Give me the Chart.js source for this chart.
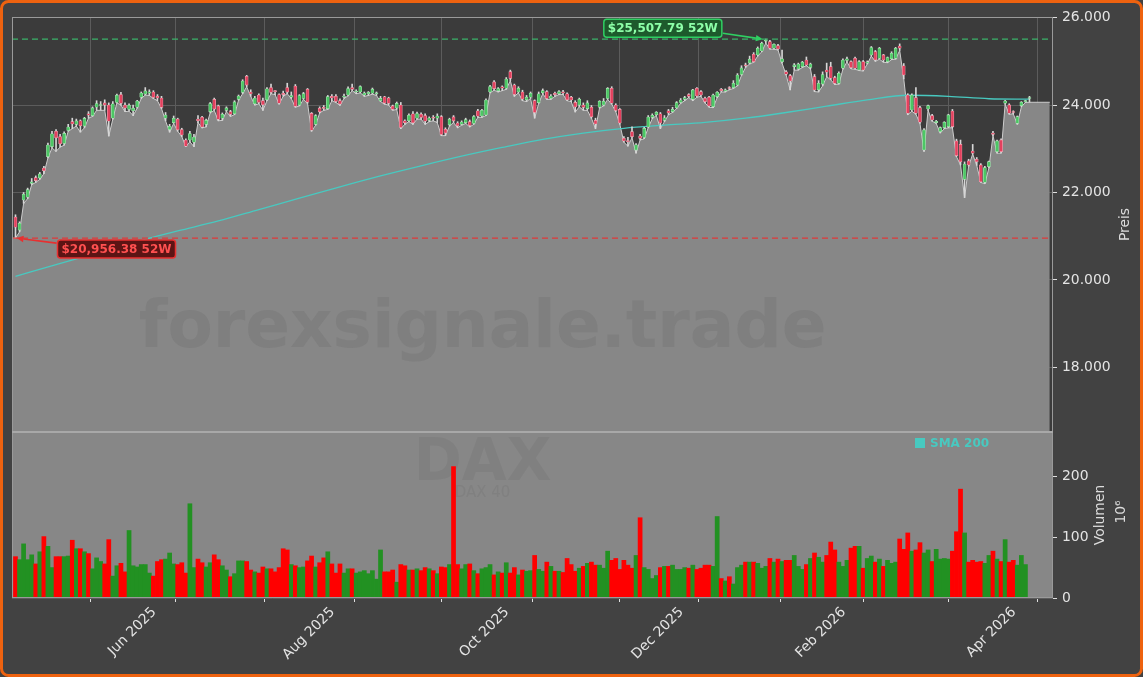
<!DOCTYPE html>
<html>
<head>
<meta charset="utf-8">
<title>DAX</title>
<script src="https://cdn.jsdelivr.net/npm/chart.js@4.4.1/dist/chart.umd.min.js"></script>
<style>
  html, body { margin: 0; padding: 0; background: #424242; }
  canvas { display: block; }
</style>
</head>
<body>
<canvas id="chart" width="1143" height="677"></canvas>
<script>
// daily candles, Xetra trading days 17 Apr 2025 .. 16 Apr 2026 (index 0..250)
const openP = [
  21440,21140,21830,21890,22210,22340,22330,22560,22820,23050,
  23400,23280,23120,23420,23620,23560,23640,23520,23800,23760,
  23950,23990,24050,24000,23700,24060,24240,24000,23900,23870,
  23950,24180,24250,24270,24300,24200,24160,23700,23440,23600,
  23680,23440,23200,23200,23150,23680,23720,23560,23850,24130,
  23980,23700,23880,23850,23800,24130,24290,24660,24300,24030,
  24230,24100,24120,24400,24330,24240,24270,24400,24180,24437,
  24000,24150,24360,23810,23560,23930,23930,23920,24200,24200,
  24100,24180,24230,24400,24300,24300,24230,24260,24270,24260,
  24100,24190,24160,23980,23930,24000,23640,23640,23800,23700,
  23790,23760,23650,23720,23700,23735,23445,23550,23730,23590,
  23560,23600,23620,23580,23870,23750,23774,24300,24529,24330,
  24420,24384,24765,24460,24300,24300,24120,24180,24100,24056,
  24280,24307,24150,24270,24260,24300,24260,24180,24060,24000,
  24000,23920,23950,23650,23950,24000,24150,24384,24000,23900,
  23240,23190,23392,22970,23290,23260,23500,23720,23780,23800,
  23650,23870,23850,23940,24060,24130,24240,24130,24384,24307,
  24155,24178,23965,24193,24360,24320,24400,24400,24460,24700,
  24920,24960,25162,25147,25238,25460,25452,25300,25360,24990,
  24760,24674,24880,24826,24880,25032,24860,24651,24350,24480,
  24800,24880,24628,24498,24842,25020,24994,25070,24804,24994,
  24960,25147,25223,25070,25147,24994,25060,25070,25350,24900,
  24231,23888,24170,23942,22973,23911,23758,23600,23393,23484,
  23507,23865,23179,23100,22300,22722,22950,22760,22630,22233,
  22592,23360,22935,23202,24041,24003,23850,23583,23987,24080,
  24150
];
const highP = [
  21490,21330,22000,22100,22320,22380,22460,22600,23130,23400,
  23440,23330,23390,23560,23700,23680,23660,23720,23850,23960,
  24100,24080,24120,24050,24080,24250,24290,24050,24030,24000,
  24110,24300,24400,24350,24330,24240,24200,23830,23560,23750,
  23700,23470,23230,23400,23330,23760,23740,23680,24060,24160,
  24000,23820,23960,23880,24100,24230,24580,24680,24350,24200,
  24260,24160,24400,24480,24330,24260,24320,24500,24300,24470,
  24240,24290,24380,23830,23780,23960,23990,24220,24240,24240,
  24140,24250,24420,24480,24350,24440,24300,24310,24390,24300,
  24200,24200,24180,24000,24070,24060,23660,23800,23850,23840,
  23820,23800,23730,23760,23800,23760,23480,23700,23760,23620,
  23640,23700,23660,23760,23900,23900,24140,24450,24560,24400,
  24440,24630,24800,24480,24420,24340,24220,24300,24120,24300,
  24370,24330,24240,24300,24330,24340,24280,24200,24100,24160,
  24050,24100,23990,23700,24100,24150,24400,24420,24030,23920,
  23280,23260,23500,23120,23330,23490,23760,23800,23850,23830,
  23760,23900,23950,24080,24150,24200,24260,24360,24400,24330,
  24180,24200,24250,24310,24380,24370,24420,24560,24720,24900,
  24960,25120,25200,25330,25440,25508,25480,25400,25390,25260,
  24790,24700,24950,24960,25000,25100,24960,24700,24560,24760,
  24960,24980,24660,24760,25060,25100,25010,25100,25020,25020,
  25010,25340,25250,25320,25160,25100,25220,25320,25400,24950,
  24260,24260,24400,23970,23460,24000,23790,23650,23500,23620,
  23790,23900,23220,23200,22700,22760,23100,22800,22660,22600,
  22720,23400,23200,23230,24110,24030,23870,23750,24080,24110,
  24200
];
const lowP = [
  20956,21100,21750,21860,22180,22230,22300,22430,22790,23020,
  22940,23040,23080,23400,23460,23520,23380,23480,23700,23740,
  23880,23880,23880,23290,23680,24050,24000,23850,23860,23760,
  23930,24150,24230,24220,24150,24100,23920,23640,23380,23580,
  23400,23280,23050,23160,23050,23600,23480,23500,23820,23880,
  23640,23650,23850,23740,23780,24110,24260,24420,24200,24000,
  24030,23880,24100,24260,24240,24020,24200,24260,24150,23950,
  23980,24130,24040,23400,23540,23820,23880,23900,24100,24060,
  23990,24150,24210,24330,24260,24280,24200,24220,24250,24220,
  24080,24020,24000,23880,23900,23460,23560,23620,23560,23680,
  23680,23560,23620,23640,23600,23300,23300,23520,23600,23480,
  23540,23580,23500,23560,23720,23720,23760,24280,24340,24300,
  24330,24360,24560,24200,24280,24100,24080,24150,23700,24040,
  24260,24130,24130,24200,24240,24240,24100,24080,23840,23960,
  23880,23880,23700,23460,23930,23980,24130,24020,23850,23560,
  23150,23060,23250,22900,23200,23230,23480,23690,23760,23460,
  23620,23780,23830,23920,24040,24100,24170,24100,24180,24200,
  24050,23950,23940,24170,24300,24300,24350,24380,24440,24680,
  24860,24940,24980,25120,25220,25420,25280,25280,25260,24956,
  24690,24346,24800,24800,24860,24900,24830,24308,24300,24440,
  24650,24580,24470,24480,24820,24990,24830,24820,24790,24780,
  24940,25120,25000,25050,24980,24970,25040,25050,25250,24600,
  23780,23860,23790,23580,22940,23880,23630,23580,23360,23460,
  23480,23480,22820,22630,21882,22600,22880,22620,22230,22200,
  22560,23300,22900,22900,24020,23790,23800,23560,23960,24060,
  24064
];
const closeP = [
  21205,21294,21961,22064,22242,22271,22425,22497,23087,23344,
  23249,23116,23352,23499,23567,23638,23527,23695,23767,23934,
  24036,23999,23999,23630,24028,24226,24039,23933,23997,23930,
  24091,24276,24323,24304,24174,24162,23949,23771,23516,23699,
  23434,23317,23057,23350,23269,23641,23498,23649,24033,23909,
  23673,23790,23934,23787,24073,24207,24550,24456,24255,24161,
  24060,24009,24371,24290,24308,24041,24240,24296,24218,23970,
  24218,24262,24065,23426,23757,23847,23925,24193,24163,24081,
  24025,24186,24377,24359,24315,24423,24277,24293,24363,24273,
  24152,24046,24039,23902,24037,23487,23595,23770,23597,23807,
  23718,23632,23703,23698,23748,23329,23359,23674,23639,23527,
  23611,23666,23534,23739,23745,23881,24114,24423,24378,24378,
  24385,24597,24611,24241,24387,24136,24181,24272,23830,24259,
  24330,24151,24207,24240,24309,24278,24124,24118,23958,24132,
  23949,24050,23734,23569,24088,24088,24381,24041,23877,23590,
  23180,23162,23279,23091,23239,23465,23726,23767,23836,23589,
  23710,23820,23900,24056,24117,24170,24200,24346,24208,24231,
  24079,23980,24231,24292,24330,24350,24380,24500,24689,24850,
  24900,25050,24994,25299,25414,25480,25299,25390,25284,25060,
  24705,24552,24918,24940,24980,24918,24940,24346,24500,24700,
  24750,24613,24498,24727,25032,25060,24857,24842,24994,24804,
  24980,25315,25032,25300,25032,25086,25185,25300,25300,24689,
  23812,24231,23812,23606,23431,23987,23660,23630,23484,23606,
  23774,23507,22843,22700,22650,22630,22900,22700,22248,22569,
  22706,23330,23179,22935,24094,23812,23830,23735,24064,24094,
  24170
];
// volume in millions
const volumeM = [
  68,63,89,63,71,56,76,101,85,50,
  68,68,68,69,95,81,81,76,73,48,
  66,60,56,96,36,53,57,43,111,53,
  51,55,55,41,36,60,63,64,74,56,
  55,58,41,155,50,64,58,51,58,71,
  63,53,46,35,40,61,61,60,46,43,
  41,51,48,48,43,50,81,79,55,53,
  50,51,61,69,51,58,66,76,56,41,
  56,41,48,48,41,43,45,40,45,31,
  79,43,43,46,26,55,53,46,46,48,
  45,50,48,45,40,51,50,55,216,55,
  48,55,56,45,40,48,50,55,38,43,
  41,58,41,50,38,46,44,45,70,47,
  44,59,52,44,44,42,65,55,44,49,
  52,57,59,54,54,49,77,62,65,47,
  62,54,49,70,132,50,47,32,37,50,
  52,52,54,47,47,50,49,54,47,49,
  54,54,52,134,32,28,35,23,50,54,
  59,59,59,57,49,52,65,59,64,60,
  62,62,70,52,47,55,65,74,67,59,
  70,92,79,59,52,62,82,85,85,49,
  65,69,59,64,52,62,57,59,97,80,
  107,77,79,91,74,79,60,80,64,65,
  64,77,109,179,107,59,62,59,60,57,
  70,77,64,60,96,59,62,54,70,55,
  null
];
// 200-day moving average, read at every 10th session
const smaIdx = [0,10,20,30,40,50,60,70,80,90,100,110,120,130,140,150,160,170,180,190,200,210,220,230,240,250];
const smaVal = [20080,20350,20610,20880,21120,21350,21610,21870,22130,22380,22610,22830,23030,23215,23360,23469,23540,23605,23700,23830,23975,24120,24225,24200,24145,24135];

const high52 = 25507.79;
const low52 = 20956.38;

// first session of each month
const monthTickIdx = [8, 29, 50, 73, 94, 116, 139, 159, 178, 199, 219, 241];
const monthTickLabels = ['', 'Jun 2025', '', 'Aug 2025', '', 'Oct 2025', '', 'Dec 2025', '', 'Feb 2026', '', 'Apr 2026'];
const priceTicks = [18000, 20000, 22000, 24000, 26000];
const volTicks = [0, 100, 200];

const xMin = -0.86, xMax = 255.8;
const areaEndIdx = 255;
const N = closeP.length;
const isUp = closeP.map((c, i) => c >= openP[i]);

const FONT = '"DejaVu Sans", "Liberation Sans", sans-serif';
const TXT = '#e4e4e4';
const GRID = '#5c5c5c';
const AXIS_FS = 13.9;

function arrow(ctx, x1, y1, x2, y2, color) {
    ctx.strokeStyle = color;
    ctx.fillStyle = color;
    ctx.lineWidth = 1.6;
    const ang = Math.atan2(y2 - y1, x2 - x1);
    const L = 7, W = 3.2;
    ctx.beginPath();
    ctx.moveTo(x1, y1);
    ctx.lineTo(x2 - L * Math.cos(ang), y2 - L * Math.sin(ang));
    ctx.stroke();
    ctx.beginPath();
    ctx.moveTo(x2, y2);
    ctx.lineTo(x2 - L * Math.cos(ang) + W * Math.sin(ang), y2 - L * Math.sin(ang) - W * Math.cos(ang));
    ctx.lineTo(x2 - L * Math.cos(ang) - W * Math.sin(ang), y2 - L * Math.sin(ang) + W * Math.cos(ang));
    ctx.closePath();
    ctx.fill();
}

function tag(ctx, text, x, yc, side, fg, bg, border) {
    ctx.font = 'bold 12px ' + FONT;
    const w = ctx.measureText(text).width + 8, h = 18;
    const left = side === 'right' ? x - w : x;
    ctx.fillStyle = bg;
    ctx.strokeStyle = border;
    ctx.lineWidth = 1.5;
    ctx.beginPath();
    ctx.roundRect(left, yc - h / 2, w, h, 3);
    ctx.fill();
    ctx.stroke();
    ctx.fillStyle = fg;
    ctx.textAlign = 'center';
    ctx.textBaseline = 'middle';
    ctx.fillText(text, left + w / 2, yc + 0.5);
    return { left, right: left + w };
}

const decor = {
    id: 'decor',
    beforeDraw(chart) {
        const { ctx, chartArea: a } = chart;
        const y = chart.scales.y;
        ctx.save();
        ctx.fillStyle = '#424242';
        ctx.fillRect(0, 0, chart.width, chart.height);
        ctx.fillStyle = '#3b3b3b';
        ctx.fillRect(a.left, y.top, a.right - a.left, y.bottom - y.top);
        ctx.restore();
    },
    beforeDatasetsDraw(chart) {
        const { ctx, chartArea: a } = chart;
        const v = chart.scales.v;
        ctx.save();
        ctx.fillStyle = '#878787';
        ctx.fillRect(a.left, v.top, a.right - a.left, v.bottom - v.top);
        const cx = a.left + (a.right - a.left) * 0.452;
        ctx.fillStyle = 'rgba(40,40,40,0.07)';
        ctx.textAlign = 'center';
        ctx.textBaseline = 'middle';
        ctx.font = 'bold 58px ' + FONT;
        ctx.fillText('DAX', cx, v.top + (v.bottom - v.top) * 0.2);
        ctx.font = '15px ' + FONT;
        ctx.fillText('DAX 40', cx, v.top + (v.bottom - v.top) * 0.367);
        ctx.restore();
    },
    afterDatasetsDraw(chart) {
        const { ctx, chartArea: a } = chart;
        const x = chart.scales.x, y = chart.scales.y, v = chart.scales.v;
        ctx.save();

        // watermark
        ctx.fillStyle = 'rgba(40,40,40,0.08)';
        ctx.textAlign = 'center';
        ctx.textBaseline = 'middle';
        ctx.font = 'bold 66px ' + FONT;
        ctx.fillText('forexsignale.trade', a.left + (a.right - a.left) * 0.452, y.top + (y.bottom - y.top) * 0.754);

        // 52 week lines
        ctx.setLineDash([6, 4]);
        ctx.lineWidth = 1.3;
        ctx.strokeStyle = '#3bb36a';
        const yh = y.getPixelForValue(high52);
        ctx.beginPath(); ctx.moveTo(a.left, yh); ctx.lineTo(a.right, yh); ctx.stroke();
        ctx.strokeStyle = '#e03a3a';
        const yl = y.getPixelForValue(low52);
        ctx.beginPath(); ctx.moveTo(a.left, yl); ctx.lineTo(a.right, yl); ctx.stroke();
        ctx.setLineDash([]);

        // 52 week tags
        const hiIdx = highP.indexOf(Math.max(...highP));
        const loIdx = lowP.indexOf(Math.min(...lowP));
        const hx = x.getPixelForValue(hiIdx);
        const lx = x.getPixelForValue(loIdx);
        const fmt = n => '$' + n.toLocaleString('en-US', { minimumFractionDigits: 2, maximumFractionDigits: 2 }) + ' 52W';
        const t1 = tag(ctx, fmt(high52), hx - 44, yh - 11, 'right', '#8dffa8', '#1d5a2c', '#2fcf62');
        arrow(ctx, t1.right + 1, yh - 6, hx - 3, yh, '#2fcf62');
        const t2 = tag(ctx, fmt(low52), lx + 42, yl + 11, 'left', '#ff5050', '#5c1414', '#e83030');
        arrow(ctx, t2.left - 1, yl + 5, lx + 1, yl, '#e83030');

        // legend
        const lgx = a.right - 138, lgy = v.top + 11;
        ctx.fillStyle = '#48c9c0';
        ctx.fillRect(lgx, lgy - 5, 10, 10);
        ctx.font = 'bold 12px ' + FONT;
        ctx.textAlign = 'left';
        ctx.fillText('SMA 200', lgx + 15, lgy + 1);

        // panel frames
        ctx.strokeStyle = '#9a9a9a';
        ctx.lineWidth = 1;
        ctx.strokeRect(a.left + 0.5, y.top + 0.5, a.right - a.left - 1, y.bottom - y.top);
        ctx.strokeRect(a.left + 0.5, v.top + 0.5, a.right - a.left - 1, v.bottom - v.top - 1);
        ctx.strokeStyle = '#a8a8a8';
        ctx.lineWidth = 2;
        ctx.beginPath(); ctx.moveTo(a.left, v.top); ctx.lineTo(a.right, v.top); ctx.stroke();
        ctx.restore();
    },
    afterDraw(chart) {
        const { ctx, chartArea: a } = chart;
        const y = chart.scales.y, v = chart.scales.v;
        ctx.save();
        ctx.fillStyle = '#dcdcdc';
        ctx.font = AXIS_FS + 'px ' + FONT;
        ctx.textAlign = 'center';
        ctx.textBaseline = 'middle';
        const vertical = (t, px, py) => {
            ctx.save(); ctx.translate(px, py); ctx.rotate(-Math.PI / 2); ctx.fillText(t, 0, 0); ctx.restore();
        };
        vertical('Preis', a.right + 72, (y.top + y.bottom) / 2);
        vertical('Volumen', a.right + 47, (v.top + v.bottom) / 2);
        vertical('10\u2076', a.right + 68, (v.top + v.bottom) / 2 - 3);
        ctx.strokeStyle = '#ee620f';
        ctx.lineWidth = 3;
        ctx.beginPath();
        ctx.roundRect(1.5, 1.5, chart.width - 3, chart.height - 3, 7);
        ctx.stroke();
        ctx.restore();
    }
};

new Chart(document.getElementById('chart'), {
    data: {
        datasets: [
            {
                type: 'line', label: 'area', yAxisID: 'y',
                data: [{ x: xMin, y: lowP[0] }, ...lowP.map((l, i) => ({ x: i, y: l })), { x: areaEndIdx, y: lowP[N - 1] }],
                fill: 'start', backgroundColor: '#878787', borderColor: '#cdcdcd', borderWidth: 1,
                pointRadius: 0, tension: 0, order: 10
            },
            {
                type: 'line', label: 'SMA 200', yAxisID: 'y',
                data: smaIdx.map((i, k) => ({ x: i, y: smaVal[k] })),
                borderColor: '#48c9c0', borderWidth: 1.3, pointRadius: 0, fill: false,
                cubicInterpolationMode: 'monotone', order: 6
            },
            {
                type: 'bar', label: 'wick', yAxisID: 'y',
                data: highP.map((h, i) => ({ x: i, y: [lowP[i], h] })),
                backgroundColor: '#d6d6d6', barThickness: 1, grouped: false, order: 4
            },
            {
                type: 'bar', label: 'body', yAxisID: 'y',
                data: openP.map((o, i) => ({ x: i, y: [o, closeP[i]] })),
                backgroundColor: isUp.map(u => u ? '#4cc764' : '#e3415e'),
                borderColor: isUp.map(u => u ? '#a6e8b2' : '#f4a6b5'),
                borderWidth: 0.6, borderSkipped: false,
                barThickness: 3, minBarLength: 1, grouped: false, order: 3
            },
            {
                type: 'bar', label: 'volume', yAxisID: 'v',
                data: volumeM.map((m, i) => ({ x: i, y: m })),
                backgroundColor: isUp.map(u => u ? '#229122' : '#ff0000'),
                barPercentage: 1, categoryPercentage: 1, grouped: false, order: 5
            }
        ]
    },
    options: {
        responsive: false,
        animation: false,
        devicePixelRatio: 1,
        layout: { padding: { top: 17, left: 12, right: 0, bottom: 0 } },
        plugins: { legend: { display: false }, tooltip: { enabled: false } },
        scales: {
            x: {
                type: 'linear', min: xMin, max: xMax, offset: false,
                afterBuildTicks: s => { s.ticks = monthTickIdx.map(i => ({ value: i })); },
                afterFit: s => { s.height = 79; },
                ticks: {
                    autoSkip: false, minRotation: 45, maxRotation: 45, labelOffset: 21, padding: 2,
                    color: TXT, font: { family: FONT, size: AXIS_FS },
                    callback: (val, k) => monthTickLabels[k]
                },
                grid: { color: GRID, tickColor: '#e0e0e0', tickLength: 4 },
                border: { display: false }
            },
            y: {
                type: 'linear', position: 'right', stack: 'panels', stackWeight: 415,
                min: 16520, max: 26015,
                afterBuildTicks: s => { s.ticks = priceTicks.map(p => ({ value: p })); },
                afterFit: s => { s.width = 90; },
                ticks: { color: TXT, font: { family: FONT, size: AXIS_FS }, padding: 5, callback: p => p.toLocaleString('de-DE') },
                grid: { color: GRID, tickColor: '#e0e0e0', tickLength: 4 },
                border: { display: false }
            },
            v: {
                type: 'linear', position: 'right', stack: 'panels', stackWeight: 166,
                min: 0, max: 273,
                afterBuildTicks: s => { s.ticks = volTicks.map(p => ({ value: p })); },
                afterFit: s => { s.width = 90; },
                ticks: { color: TXT, font: { family: FONT, size: AXIS_FS }, padding: 5 },
                grid: { color: GRID, tickColor: '#e0e0e0', tickLength: 4 },
                border: { display: false }
            }
        }
    },
    plugins: [decor]
});
</script>
</body>
</html>
